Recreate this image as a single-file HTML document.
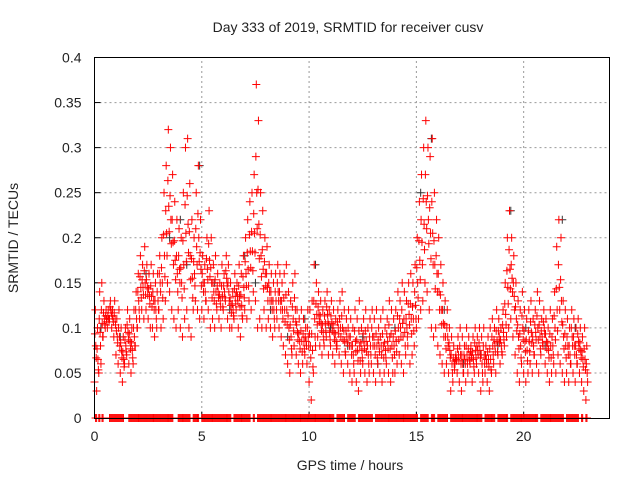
<!DOCTYPE html>
<html><head><meta charset="utf-8">
<style>
html,body{margin:0;padding:0;background:#fff;}
svg{display:block;font-family:"Liberation Sans",sans-serif;}
</style></head>
<body>
<svg id="chart" width="640" height="480" viewBox="0 0 640 480" xmlns="http://www.w3.org/2000/svg">
<rect width="640" height="480" fill="#fff"/>
<text x="348" y="32" font-size="14" text-anchor="middle" fill="#222">Day 333 of 2019, SRMTID for receiver cusv</text>
<text x="350" y="470" font-size="14" text-anchor="middle" fill="#222">GPS time / hours</text>
<text transform="translate(18,238) rotate(-90)" font-size="14" text-anchor="middle" fill="#222">SRMTID / TECUs</text>
<g id="grid"></g>
<g id="ticks"></g>
<path id="grey" stroke="#333" stroke-width="1" fill="none"/>
<path id="red" stroke="#ff0000" stroke-width="1" fill="none"/>
<path id="zeros" stroke="#ff0000" stroke-width="1" fill="none"/>
<rect x="94.5" y="57.5" width="515" height="361" fill="none" stroke="#000" stroke-width="1"/>
</svg>
<script>
const xTicks=[0,5,10,15,20];
const yTicks=[0,0.05,0.1,0.15,0.2,0.25,0.3,0.35,0.4];
const yTickLabels=["0","0.05","0.1","0.15","0.2","0.25","0.3","0.35","0.4"];
const redHours=[
0.0,0.1,0.2,0.3,0.4,0.5,0.6,0.7,0.8,0.9,
1.0,1.1,1.2,1.3,1.4,1.5,1.6,1.7,1.8,1.9,
2.0,2.1,2.2,2.3,2.4,2.5,2.6,2.7,2.8,2.9,
3.0,3.1,3.2,3.3,3.4,3.5,3.6,3.7,3.8,3.9,
4.0,4.1,4.2,4.3,4.4,4.5,4.6,4.7,4.8,4.9,
5.0,5.1,5.2,5.3,5.4,5.5,5.6,5.7,5.8,5.9,
6.0,6.1,6.2,6.3,6.4,6.5,6.6,6.7,6.8,6.9,
7.0,7.1,7.2,7.3,7.4,7.5,7.6,7.7,7.8,7.9,
8.0,8.1,8.2,8.3,8.4,8.5,8.6,8.7,8.8,8.9,
9.0,9.1,9.2,9.3,9.4,9.5,9.6,9.7,9.8,9.9,
10.0,10.1,10.2,10.3,10.4,10.5,10.6,10.7,10.8,10.9,
11.0,11.1,11.2,11.3,11.4,11.5,11.6,11.7,11.8,11.9,
12.0,12.1,12.2,12.3,12.4,12.5,12.6,12.7,12.8,12.9,
13.0,13.1,13.2,13.3,13.4,13.5,13.6,13.7,13.8,13.9,
14.0,14.1,14.2,14.3,14.4,14.5,14.6,14.7,14.8,14.9,
15.0,15.1,15.2,15.3,15.4,15.5,15.6,15.7,15.8,15.9,
16.0,16.1,16.2,16.3,16.4,16.5,16.6,16.7,16.8,16.9,
17.0,17.1,17.2,17.3,17.4,17.5,17.6,17.7,17.8,17.9,
18.0,18.1,18.2,18.3,18.4,18.5,18.6,18.7,18.8,18.9,
19.0,19.1,19.2,19.3,19.4,19.5,19.6,19.7,19.8,19.9,
20.0,20.1,20.2,20.3,20.4,20.5,20.6,20.7,20.8,20.9,
21.0,21.1,21.2,21.3,21.4,21.5,21.6,21.7,21.8,21.9,
22.0,22.1,22.2,22.3,22.4,22.5,22.6,22.7,22.8,22.9];
const redLow=[
0.04,0.03,0.05,0.06,0.09,0.1,0.1,0.11,0.1,0.09,
0.07,0.06,0.05,0.04,0.06,0.07,0.06,0.05,0.06,0.08,
0.1,0.11,0.12,0.11,0.12,0.11,0.1,0.1,0.09,0.1,
0.12,0.1,0.11,0.13,0.15,0.14,0.12,0.11,0.1,0.12,
0.1,0.09,0.11,0.12,0.1,0.09,0.12,0.13,0.12,0.11,
0.12,0.11,0.13,0.12,0.1,0.11,0.1,0.12,0.11,0.1,
0.12,0.13,0.11,0.1,0.1,0.11,0.12,0.1,0.09,0.11,
0.12,0.11,0.13,0.12,0.14,0.13,0.1,0.11,0.1,0.12,
0.1,0.11,0.1,0.09,0.1,0.11,0.1,0.09,0.08,0.07,
0.06,0.05,0.07,0.08,0.07,0.06,0.05,0.06,0.07,0.06,
0.04,0.02,0.05,0.08,0.09,0.08,0.07,0.08,0.09,0.07,
0.08,0.07,0.06,0.08,0.07,0.06,0.05,0.07,0.06,0.05,
0.04,0.05,0.04,0.03,0.05,0.06,0.05,0.04,0.05,0.06,
0.05,0.04,0.06,0.05,0.04,0.05,0.06,0.05,0.04,0.05,
0.05,0.06,0.07,0.06,0.05,0.07,0.08,0.06,0.07,0.08,
0.1,0.11,0.12,0.13,0.15,0.14,0.12,0.1,0.09,0.1,
0.08,0.07,0.06,0.05,0.06,0.05,0.03,0.04,0.06,0.05,
0.04,0.03,0.05,0.04,0.05,0.06,0.04,0.05,0.06,0.05,
0.03,0.04,0.05,0.04,0.03,0.05,0.06,0.05,0.07,0.06,
0.07,0.08,0.09,0.1,0.11,0.09,0.07,0.05,0.04,0.06,
0.05,0.04,0.05,0.06,0.05,0.07,0.06,0.05,0.07,0.08,
0.06,0.05,0.04,0.05,0.06,0.05,0.07,0.06,0.05,0.04,
0.05,0.04,0.06,0.05,0.04,0.06,0.05,0.04,0.03,0.02];
const redHigh=[
0.12,0.1,0.14,0.15,0.13,0.12,0.12,0.13,0.12,0.13,
0.11,0.12,0.1,0.09,0.1,0.12,0.11,0.1,0.12,0.14,
0.16,0.18,0.17,0.19,0.17,0.16,0.17,0.16,0.15,0.16,
0.18,0.2,0.25,0.28,0.32,0.3,0.27,0.24,0.22,0.21,
0.2,0.25,0.3,0.31,0.26,0.22,0.2,0.25,0.28,0.22,
0.18,0.17,0.2,0.23,0.2,0.17,0.18,0.16,0.15,0.17,
0.16,0.18,0.17,0.15,0.14,0.16,0.15,0.17,0.16,0.18,
0.2,0.22,0.24,0.25,0.27,0.37,0.33,0.25,0.23,0.2,
0.19,0.17,0.16,0.15,0.16,0.17,0.16,0.15,0.16,0.17,
0.14,0.13,0.15,0.16,0.12,0.11,0.12,0.11,0.1,0.12,
0.12,0.13,0.17,0.15,0.14,0.13,0.12,0.13,0.14,0.12,
0.13,0.12,0.11,0.12,0.13,0.14,0.12,0.11,0.12,0.11,
0.1,0.12,0.11,0.13,0.1,0.11,0.12,0.1,0.11,0.12,
0.11,0.12,0.1,0.11,0.12,0.1,0.11,0.13,0.12,0.11,
0.12,0.14,0.13,0.15,0.14,0.13,0.15,0.16,0.15,0.17,
0.2,0.24,0.27,0.3,0.33,0.3,0.29,0.31,0.25,0.22,
0.2,0.17,0.15,0.13,0.12,0.1,0.09,0.08,0.07,0.09,
0.1,0.09,0.08,0.1,0.09,0.08,0.09,0.1,0.09,0.1,
0.09,0.1,0.08,0.09,0.1,0.11,0.1,0.12,0.11,0.1,
0.12,0.15,0.2,0.23,0.2,0.18,0.15,0.13,0.12,0.14,
0.12,0.11,0.12,0.13,0.11,0.12,0.14,0.13,0.11,0.12,
0.11,0.1,0.12,0.11,0.14,0.19,0.22,0.2,0.13,0.12,
0.11,0.1,0.12,0.11,0.1,0.11,0.1,0.09,0.1,0.08];
const greyHours=[0.3,1.2,2.4,3.5,4.0,4.3,4.9,5.6,6.3,7.0,7.5,8.2,9.0,9.8,10.3,11.0,11.8,12.5,13.2,14.0,15.2,15.7,16.3,17.2,18.0,18.8,19.4,20.1,21.0,21.8,22.4];
const greyValues=[0.1,0.09,0.16,0.2,0.22,0.17,0.28,0.15,0.12,0.18,0.15,0.12,0.09,0.11,0.17,0.1,0.08,0.09,0.06,0.1,0.25,0.31,0.12,0.06,0.07,0.08,0.23,0.1,0.08,0.22,0.1];
const zeroHours=[0.05,0.2,0.35,0.7,0.8,0.9,1.0,1.1,1.2,1.3,1.6,1.7,1.8,1.9,2.0,2.1,2.2,2.3,2.4,2.5,2.6,2.7,2.8,2.9,3.0,3.1,3.2,3.3,3.4,3.5,3.6,3.9,4.0,4.1,4.2,4.3,4.4,4.6,4.7,4.8,5.0,5.1,5.2,5.3,5.4,5.5,5.6,5.7,5.8,5.9,6.0,6.1,6.2,6.3,6.5,6.6,6.7,6.8,6.9,7.0,7.1,7.2,7.4,7.6,7.7,7.8,7.9,8.0,8.1,8.2,8.3,8.4,8.5,8.6,8.7,8.8,8.9,9.0,9.1,9.2,9.3,9.4,9.5,9.6,9.7,9.8,9.9,10.0,10.1,10.2,10.3,10.4,10.5,10.6,10.7,10.8,10.9,11.0,11.1,11.3,11.4,11.5,11.6,11.8,11.9,12.0,12.1,12.3,12.4,12.5,12.6,12.7,12.8,12.9,13.1,13.2,13.3,13.4,13.5,13.6,13.7,13.8,13.9,14.0,14.1,14.2,14.3,14.4,14.5,14.6,14.7,14.8,14.9,15.0,15.2,15.3,15.4,15.5,15.7,15.8,16.0,16.1,16.2,16.3,16.4,16.6,16.7,16.8,16.9,17.0,17.1,17.2,17.3,17.4,17.5,17.6,17.7,17.8,17.9,18.0,18.2,18.3,18.4,18.5,18.6,18.8,18.9,19.0,19.1,19.2,19.4,19.5,19.6,19.7,19.8,19.9,20.0,20.1,20.2,20.3,20.4,20.5,20.6,20.8,20.9,21.0,21.1,21.2,21.3,21.4,21.5,21.6,21.7,21.8,22.0,22.1,22.2,22.3,22.4,22.5,22.7,22.9];

const X0=94.5,X1=609.5,Y0=418,Y1=57.5;
const xs=h=>X0+(h/24)*(X1-X0);
const ys=v=>Y0-(v/0.4)*(Y0-Y1);
const NS="http://www.w3.org/2000/svg";
const grid=document.getElementById('grid'),ticks=document.getElementById('ticks');
function mk(tag,attrs,parent){const e=document.createElementNS(NS,tag);for(const k in attrs)e.setAttribute(k,attrs[k]);parent.appendChild(e);return e;}
xTicks.forEach(t=>{const x=xs(t);
 if(t>0){const g=mk('line',{x1:x,x2:x,y1:Y0,y2:Y1,stroke:'#999','stroke-dasharray':'2,3'},grid);
 
 }
 const tk=mk('line',{x1:x,x2:x,y1:Y0,y2:Y0-6,stroke:'#000'},ticks);
 
 
 const lb=mk('text',{x:x,y:Y0+23,'font-size':14,'text-anchor':'middle',fill:'#222'},ticks);lb.textContent=String(t);
 
 
});
yTicks.forEach((t,i)=>{const y=ys(t);
 if(i>0&&i<yTicks.length-1){const g=mk('line',{x1:X0,x2:X1,y1:y,y2:y,stroke:'#999','stroke-dasharray':'2,3'},grid);
 
 }
 const tk=mk('line',{x1:X0,x2:X0+6,y1:y,y2:y,stroke:'#000'},ticks);
 
 
 const lb=mk('text',{x:X0-13,y:y+5,'font-size':14,'text-anchor':'end',fill:'#222'},ticks);lb.textContent=yTickLabels[i];
 
 
});
const plus=(h,v)=>{const x=xs(h),y=ys(v);return `M${x-4} ${y}h8M${x} ${y-4}v8`;};
let d='';
redHours.forEach((h,i)=>{
 const lo=redLow[i],hi=redHigh[i];
 d+=plus(h,lo)+plus(h+0.04,hi)+plus(h+0.06,(lo+hi)/2)+plus(h+0.08,(2*lo+hi)/3)+plus(h+0.02,(lo+2*hi)/3);
});
document.getElementById('red').setAttribute('d',d);
let g='';greyHours.forEach((h,i)=>{g+=plus(h,greyValues[i]);});
document.getElementById('grey').setAttribute('d',g);
let z='';zeroHours.forEach(h=>{z+=plus(h,0)+plus(h+0.05,0);});
document.getElementById('zeros').setAttribute('d',z);
</script>
</body></html>
